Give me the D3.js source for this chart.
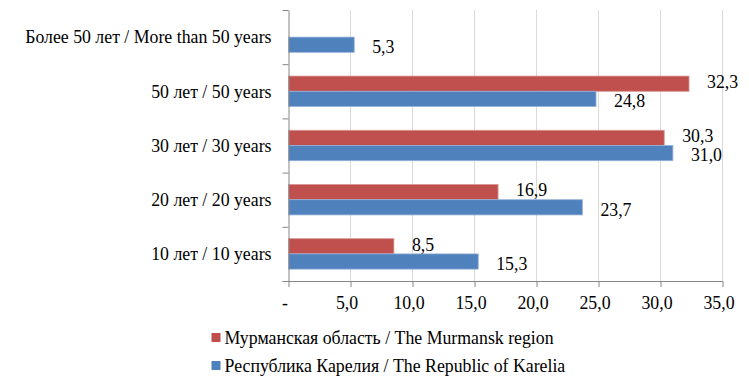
<!DOCTYPE html>
<html>
<head>
<meta charset="utf-8">
<script src="https://cdn.jsdelivr.net/npm/d3@7"></script>
<style>
    body { margin: 0; background: #fff; }
    svg text { font-family: "Liberation Serif", "Times New Roman", serif !important; fill: #000; }
</style>
</head>
<body>
<div id="chart"></div>
<script>
// categories, top to bottom
let categories = ["Более 50 лет / More than 50 years", "50 лет / 50 years", "30 лет / 30 years",
    "20 лет / 20 years", "10 лет / 10 years"];

let seriesNames = ["Мурманская область / The Murmansk region", "Республика Карелия / The Republic of Karelia"];
let seriesColors = ["#c0504d", "#4f81bd"];

// values per category
let murmansk = [null, 32.3, 30.3, 16.9, 8.5];
let karelia = [5.3, 24.8, 31.0, 23.7, 15.3];

let xTicks = [0, 5, 10, 15, 20, 25, 30, 35];

let serif = "'Liberation Serif', 'Times New Roman', serif";

// build table
let data = categories.map((c, i) => ({
    category: c,
    values: [
        {key: seriesNames[0], value: murmansk[i], s: 0},
        {key: seriesNames[1], value: karelia[i], s: 1}
    ]
}));

let W = 749, H = 378;
let margin = {top: 10, left: 288.5, right: 26.5, bottom: 97};
let width = W - margin.left - margin.right;
let height = H - margin.top - margin.bottom;

let svg = d3.select("#chart").append("svg")
    .attr("width", W)
    .attr("height", H)
    .attr("font-family", serif);

let g = svg.append("g")
    .attr("transform", `translate(${margin.left}, ${margin.top})`);

let fmt = v => v === 0 ? "-" : d3.format(".1f")(v).replace(".", ",");

// scales
let x = d3.scaleLinear().domain([0, 35]).range([0, width]);
let y0 = d3.scaleBand().domain(categories).range([0, height]).padding(0);
let y1 = d3.scaleBand().domain(seriesNames).range([0, y0.bandwidth()]).paddingInner(0).paddingOuter(0.78);

// gridlines
g.append("g")
    .selectAll("line")
    .data(xTicks.slice(1))
    .enter().append("line")
    .attr("x1", d => x(d)).attr("x2", d => x(d))
    .attr("y1", 0).attr("y2", height)
    .attr("stroke", "#d9d9d9")
    .attr("stroke-width", 1);

// bars
let groups = g.selectAll(".group")
    .data(data)
    .enter().append("g")
    .attr("class", "group")
    .attr("transform", d => `translate(0, ${y0(d.category)})`);

groups.selectAll("rect")
    .data(d => d.values.filter(v => v.value !== null))
    .enter().append("rect")
    .attr("x", 0)
    .attr("y", d => y1(d.key))
    .attr("width", d => x(d.value))
    .attr("height", y1.bandwidth())
    .attr("fill", d => seriesColors[d.s])
    .attr("stroke", d => d.s === 0 ? "#d99694" : "#95b3d7")
    .attr("stroke-width", 0.8);

// data labels
groups.selectAll(".lbl")
    .data(d => d.values.filter(v => v.value !== null))
    .enter().append("text")
    .attr("class", "lbl")
    .attr("x", d => x(d.value) + 18)
    .attr("y", d => y1(d.key) + y1.bandwidth() / 2 + (d.s === 0 ? -2 : 2))
    .attr("dy", "0.35em")
    .style("font-family", serif)
    .style("font-size", "17.8px")
    .text(d => fmt(d.value));

// x axis
let xAxis = d3.axisBottom(x)
    .tickValues(xTicks)
    .tickSize(6)
    .tickSizeOuter(0)
    .tickFormat(fmt);

let xg = g.append("g")
    .attr("transform", `translate(0, ${height})`)
    .call(xAxis)
    .attr("font-family", serif);
xg.select(".domain").attr("stroke", "#868686").attr("d", `M-6,0.5H${width}`);
xg.selectAll(".tick line").attr("stroke", "#868686");
xg.selectAll(".tick text")
    .attr("dx", "-4")
    .attr("y", 15)
    .attr("dy", "0.71em")
    .style("font-size", "17.8px")
    .style("font-family", serif);

// y axis (boundaries between categories)
let yb = d3.scaleLinear().domain([0, categories.length]).range([height, 0]);
let yAxis = d3.axisLeft(yb)
    .ticks(categories.length)
    .tickSize(6)
    .tickSizeOuter(0)
    .tickFormat("");
let yg = g.append("g").call(yAxis);
yg.select(".domain").attr("stroke", "#868686");
yg.selectAll(".tick line").attr("stroke", "#868686");

// category labels
g.append("g")
    .selectAll("text")
    .data(categories)
    .enter().append("text")
    .attr("x", -17)
    .attr("y", d => y0(d) + y0.bandwidth() / 2)
    .attr("dy", "0.35em")
    .attr("text-anchor", "end")
    .style("font-family", serif)
    .style("font-size", "17.8px")
    .text(d => d);

// legend
let legend = svg.append("g")
    .attr("transform", "translate(211.5, 338)");

let items = legend.selectAll("g")
    .data(seriesNames)
    .enter().append("g")
    .attr("transform", (d, i) => `translate(0, ${i * 28})`);

items.append("rect")
    .attr("x", 0).attr("y", -5)
    .attr("width", 9).attr("height", 9)
    .attr("fill", (d, i) => seriesColors[i]);

items.append("text")
    .attr("x", 13)
    .attr("y", 0)
    .attr("dy", "0.35em")
    .style("font-family", serif)
    .style("font-size", "17.8px")
    .text(d => d);
</script>
</body>
</html>
